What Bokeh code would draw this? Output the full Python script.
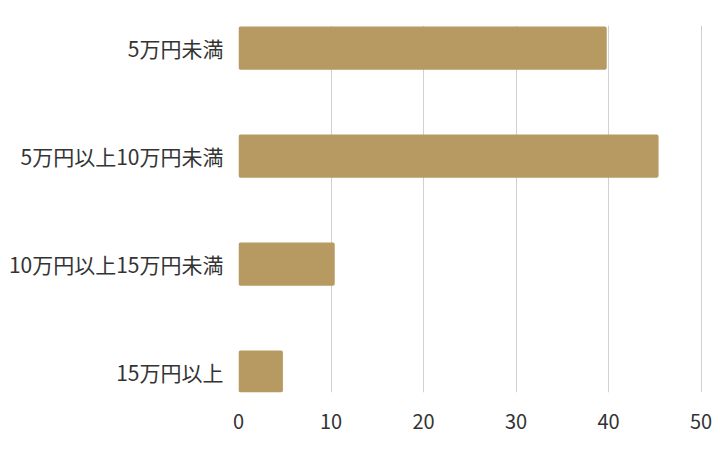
from bokeh.plotting import figure
from bokeh.models import Range1d, FixedTicker, ColumnDataSource
from bokeh.embed import file_html
from bokeh.resources import INLINE

categories = ["5万円未満", "5万円以上10万円未満", "10万円以上15万円未満", "15万円以上"]
values = [39.8, 45.4, 10.4, 4.8]
x_ticks = [0, 10, 20, 30, 40, 50]

positions = list(range(len(categories)))
src = ColumnDataSource(dict(y=positions, v=values))

FONT = "Noto Sans CJK JP"

p = figure(width=720, height=450, output_backend="svg", toolbar_location=None,
           x_range=Range1d(0, 50.15),
           y_range=Range1d(len(categories) - 1 + 0.19, -0.21),
           min_border_left=238, min_border_right=18, min_border_top=25, min_border_bottom=58)

p.hbar(y="y", right="v", left=0, height=0.4, source=src,
       fill_color="#b69a61", line_color=None, border_radius=2)

p.outline_line_color = None
p.background_fill_color = "white"
p.border_fill_color = "white"

p.xaxis.ticker = FixedTicker(ticks=x_ticks)
p.xaxis.axis_line_color = None
p.xaxis.major_tick_line_color = None
p.xaxis.minor_tick_line_color = None
p.xaxis.major_label_standoff = 15
p.xaxis.major_label_text_font = FONT
p.xaxis.major_label_text_font_size = "20px"
p.xaxis.major_label_text_color = "#333333"

p.yaxis.ticker = FixedTicker(ticks=positions)
p.yaxis.major_label_overrides = {i: c for i, c in zip(positions, categories)}
p.yaxis.axis_line_color = None
p.yaxis.major_tick_line_color = None
p.yaxis.minor_tick_line_color = None
p.yaxis.major_label_standoff = 9
p.yaxis.major_label_text_font = FONT
p.yaxis.major_label_text_font_size = "21px"
p.yaxis.major_label_text_color = "#333333"

p.xgrid.ticker = FixedTicker(ticks=x_ticks)
p.xgrid.grid_line_color = "#d0d0d0"
p.xgrid.grid_line_width = 1
p.ygrid.grid_line_color = None

open("out.html", "w").write(file_html(p, INLINE))
